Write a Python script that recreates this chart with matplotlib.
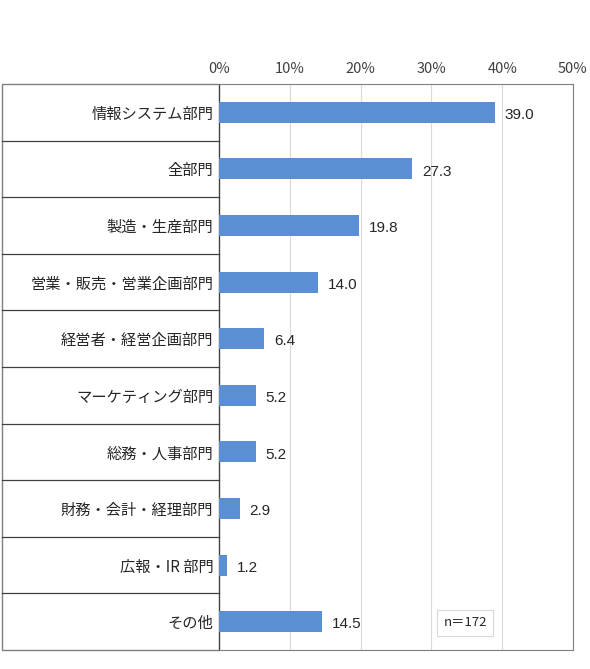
import matplotlib
matplotlib.use('Agg')
import matplotlib.pyplot as plt
import matplotlib.ticker as mticker
from matplotlib.patches import Rectangle
import numpy as np

plt.rcParams['font.family'] = ['Noto Sans CJK JP', 'DejaVu Sans']

CATEGORIES = ["情報システム部門", "全部門", "製造・生産部門", "営業・販売・営業企画部門",
              "経営者・経営企画部門", "マーケティング部門", "総務・人事部門",
              "財務・会計・経理部門", "広報・IR 部門", "その他"]
VALUES = [39.0, 27.3, 19.8, 14.0, 6.4, 5.2, 5.2, 2.9, 1.2, 14.5]
XTICKS = [0, 10, 20, 30, 40, 50]
N_LABEL = "n＝172"

BAR = "#5B8ED2"
GRID = "#D9D9D9"
FRAME = "#7F7F7F"
TXT = "#262626"

fig = plt.figure(figsize=(5.9, 6.69), dpi=100)
ax = fig.add_axes([219/590, 1-650/669, (573-219)/590, (650-84)/669])

y = np.arange(len(CATEGORIES))
ax.barh(y, VALUES, height=0.37, color=BAR, zorder=3)
ax.set_xlim(0, 50)
ax.set_ylim(len(CATEGORIES)-0.5, -0.5)
ax.set_xticks(XTICKS)
ax.xaxis.set_major_formatter(mticker.FuncFormatter(lambda v, _: f"{v:.0f}%"))
ax.xaxis.tick_top()
ax.tick_params(axis="x", length=0, pad=6, labelsize=10.5, colors="#404040")
ax.set_yticks(y)
ax.set_yticklabels(CATEGORIES, fontsize=11, color=TXT)
ax.tick_params(axis="y", length=0, pad=4)
ax.grid(axis="x", color=GRID, linewidth=0.8, zorder=0)

for sp in ["top", "right", "bottom"]:
    ax.spines[sp].set_color(FRAME)
ax.spines["left"].set_color("#404040")

for yi, v in zip(y, VALUES):
    ax.annotate(f"{v:.1f}", (v, yi), xytext=(7, -2), textcoords="offset points",
                ha="left", va="center", fontsize=11, color=TXT, family="Liberation Sans")

# left label column: separators and outer frame
x0 = -(219-2)/354
trans = ax.get_yaxis_transform()
for b in np.arange(0.5, len(CATEGORIES)-0.5, 1.0):
    ax.plot([x0, 0], [b, b], transform=trans, color="#404040", linewidth=0.9, clip_on=False)
ax.add_patch(Rectangle((x0, 0), -x0, 1, transform=ax.transAxes, fill=False,
                       edgecolor=FRAME, linewidth=1.0, clip_on=False))

ax.text(0.695, 0.048, N_LABEL, transform=ax.transAxes, ha="center", va="center",
        fontsize=9.5, color=TXT,
        bbox=dict(boxstyle="square,pad=0.5", facecolor="white", edgecolor=GRID, linewidth=0.8))

fig.savefig("out.png", dpi=100, facecolor="white")
